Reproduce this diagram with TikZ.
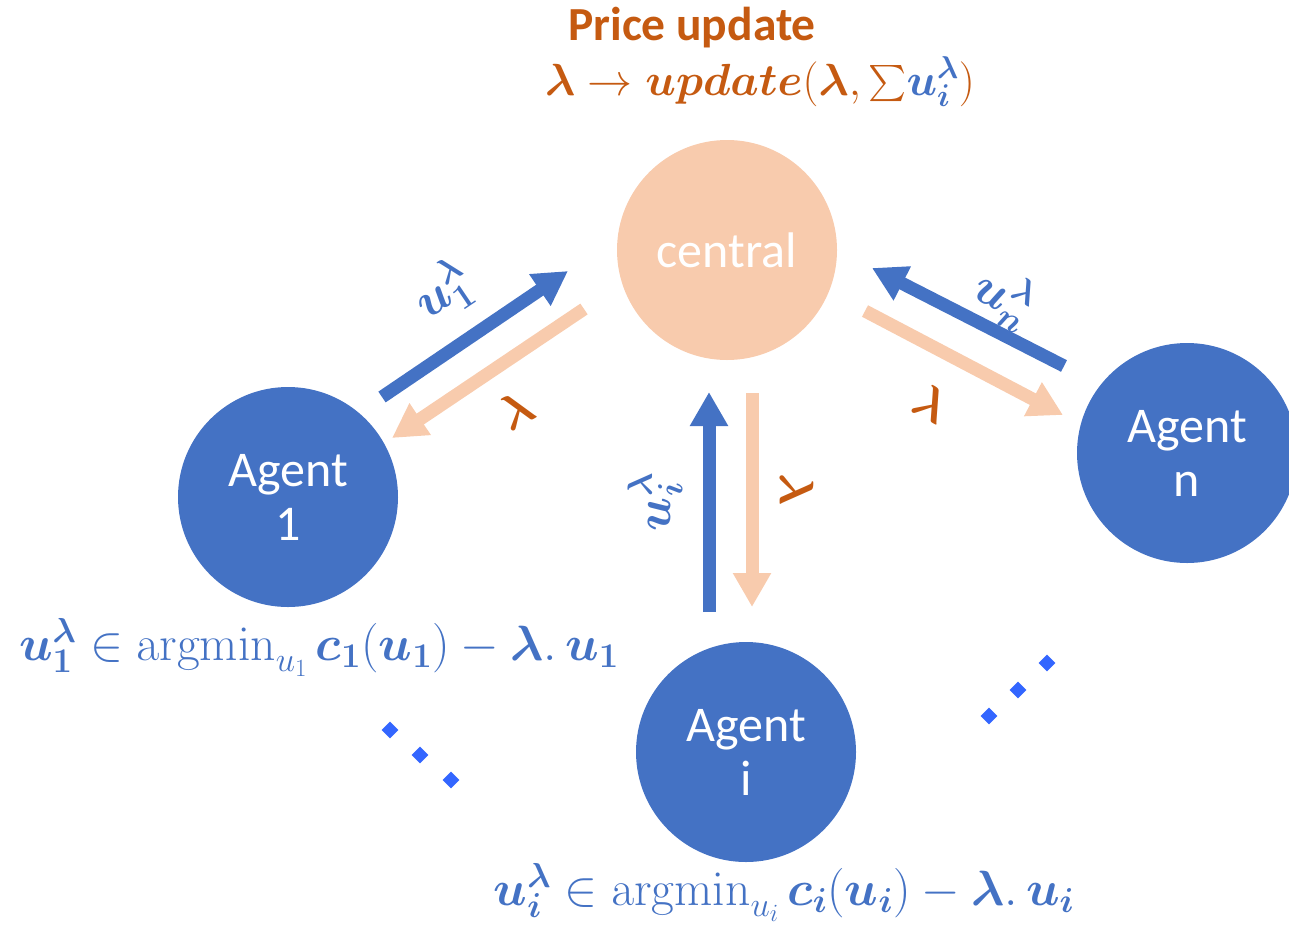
\documentclass[tikz,border=0pt]{standalone}
\usepackage{fix-cm}
\usepackage{amsmath}
\usepackage{bm}
\usepackage[no-math]{fontspec}
\newfontfamily\carlito{Carlito}
\usetikzlibrary{arrows.meta,shapes.geometric}
\definecolor{cblue}{HTML}{4472C4}
\definecolor{cpeach}{HTML}{F8CBAD}
\definecolor{corange}{HTML}{C55A11}
\definecolor{cdot}{HTML}{3366FF}
\begin{document}
\begin{tikzpicture}[x=1pt,y=-1pt,
  agent/.style={circle,fill=cblue,minimum size=220pt,inner sep=0pt,text=white,
    font=\carlito\fontsize{50}{54}\selectfont,align=center},
  hub/.style={circle,fill=cpeach,minimum size=220pt,inner sep=0pt,text=white,
    font=\carlito\fontsize{50}{54}\selectfont},
  uparrow/.style={draw=cblue,line width=13pt,-{Triangle[width=36pt,length=34pt]}},
  lamarrow/.style={draw=cpeach,line width=13pt,-{Triangle[width=36pt,length=34pt]}},
  lamlab/.style={text=corange,font=\fontsize{48}{50}\selectfont,inner sep=0pt},
  ulab/.style={text=cblue,font=\fontsize{50}{54}\selectfont,inner sep=0pt},
  formula/.style={text=cblue,font=\fontsize{49.5}{54}\selectfont,inner sep=0pt,anchor=base},
  dotmark/.style={diamond,fill=cdot,minimum size=17pt,inner sep=0pt}
]
\useasboundingbox (0,0) rectangle (1289,927);

% nodes
\node[hub]   (c)  at (727,250) {central};
\node[agent] (a1) at (288,497) {Agent\\1};
\node[agent] (ai) at (746,752) {Agent\\i};
\node[agent] (an) at (1187,453) {Agent\\n};

% title
\node[text=corange,font=\carlito\bfseries\fontsize{47.5}{50}\selectfont,anchor=base,inner sep=0pt]
  (title) at (692,40) {Price update};
\node[text=corange,font=\fontsize{45}{50}\selectfont,anchor=base,inner sep=0pt]
  (upd) at (760,95) {$\bm{\lambda}\rightarrow\bm{update}(\bm{\lambda},\mathop{\vcenter{\hbox{\scalebox{1.45}{$\sum$}}}}\!{\color{cblue}\bm{u_i^{\lambda}}})$};

% arrow end points
\coordinate (u1s) at (382,397);
\coordinate (u1e) at (568,271);
\coordinate (l1s) at (584,309);
\coordinate (l1e) at (392,438);
\coordinate (uns) at (1064,366);
\coordinate (une) at (872,268);
\coordinate (lns) at (865,311);
\coordinate (lne) at (1063,415);
\coordinate (uis) at (709,612);
\coordinate (uie) at (709,392);
\coordinate (lis) at (752,393);
\coordinate (lie) at (752,607);

\draw[uparrow]  (u1s) -- (u1e);
\draw[lamarrow] (l1s) -- (l1e);
\draw[uparrow]  (uns) -- (une);
\draw[lamarrow] (lns) -- (lne);
\draw[uparrow]  (uis) -- (uie);
\draw[lamarrow] (lis) -- (lie);

% arrow labels
\node[ulab,rotate=34]  (lu1) at (443,292) {$\bm{u_1^{\lambda}}$};
\node[lamlab,rotate=30] (ll1) at (516,410) {$\bm{\lambda}$};
\node[ulab,rotate=-28] (lun) at (1004,297) {$\bm{u_n^{\lambda}}$};
\node[lamlab,rotate=-28] (lln) at (932,403) {$\bm{\lambda}$};
\node[ulab,rotate=90]  (lui) at (655,502) {$\bm{u_i^{\lambda}}$};
\node[lamlab,rotate=-90] (lli) at (797,490) {$\bm{\lambda}$};

% formulas
\node[formula] (f1) at (319,660)
  {$\bm{u_1^{\lambda}}\in\operatorname{argmin}_{u_1}\bm{c_1}(\bm{u_1})-\bm{\lambda}.\,\bm{u_1}$};
\node[formula] (fi) at (784,905)
  {$\bm{u_i^{\lambda}}\in\operatorname{argmin}_{u_i}\bm{c_i}(\bm{u_i})-\bm{\lambda}.\,\bm{u_i}$};

% dots
\node[dotmark] (d1) at (390,730) {};
\node[dotmark] (d2) at (420,755) {};
\node[dotmark] (d3) at (451,780) {};
\node[dotmark] (d4) at (989,716) {};
\node[dotmark] (d5) at (1018,690) {};
\node[dotmark] (d6) at (1047,663) {};
\end{tikzpicture}
\end{document}
